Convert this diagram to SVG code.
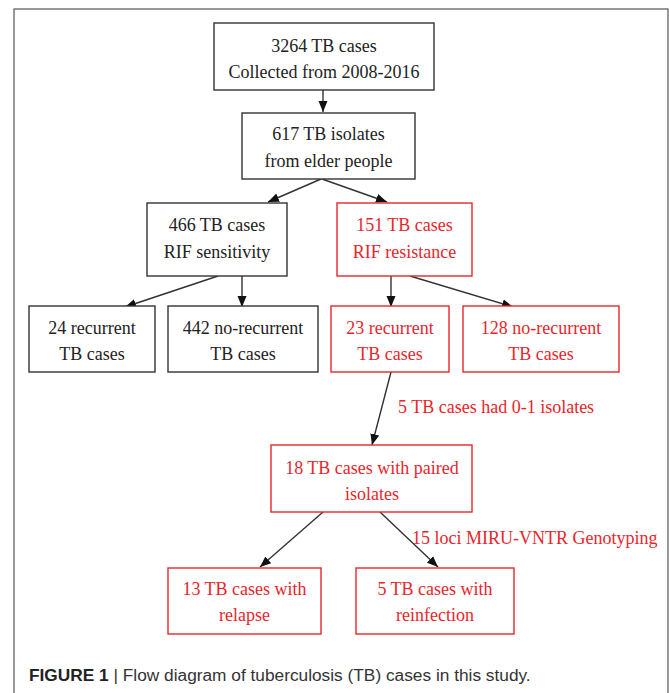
<svg xmlns="http://www.w3.org/2000/svg" width="669" height="693" viewBox="0 0 669 693">
<defs>
<style>
.bk{fill:#fff;stroke:#333;stroke-width:1.4}
.rd{fill:#fff;stroke:#e8262c;stroke-width:1.4}
.t{font-family:"Liberation Serif","Times New Roman",serif;font-size:18px;text-anchor:middle;fill:#222}
.tr{font-family:"Liberation Serif","Times New Roman",serif;font-size:18px;text-anchor:middle;fill:#e8262c}
.lr{font-family:"Liberation Serif","Times New Roman",serif;font-size:18px;fill:#e8262c}
.c{stroke:#333;stroke-width:1.4;fill:none;marker-end:url(#ah)}
.cap{font-family:"Liberation Sans",Arial,sans-serif;font-size:17.3px;fill:#333}
</style>
<marker id="ah" markerUnits="userSpaceOnUse" markerWidth="12" markerHeight="10" refX="11" refY="4.5" orient="auto" viewBox="0 0 12 9">
<path d="M0,0 L11,4.5 L0,9 z" fill="#111"/>
</marker>
</defs>
<rect x="14" y="9" width="654" height="720" fill="#fff" stroke="#555" stroke-width="1.2"/>
<g id="connectors">
<line class="c" x1="323" y1="90" x2="323" y2="112"/>
<line class="c" x1="321" y1="179" x2="268" y2="202"/>
<line class="c" x1="322" y1="179" x2="387" y2="202"/>
<line class="c" x1="218" y1="276" x2="125" y2="307"/>
<line class="c" x1="242" y1="276" x2="242" y2="307"/>
<line class="c" x1="391" y1="276" x2="391" y2="307"/>
<line class="c" x1="410" y1="276" x2="513" y2="307"/>
<line class="c" x1="391" y1="372" x2="372" y2="445"/>
<line class="c" x1="323" y1="512" x2="260" y2="567"/>
<line class="c" x1="380" y1="512" x2="438" y2="567"/>
</g>
<g id="n1"><rect class="bk" x="214" y="23" width="220" height="67"/><text class="t" x="324" y="52">3264 TB cases</text><text class="t" x="324" y="77.5">Collected from 2008-2016</text></g>
<g id="n2"><rect class="bk" x="242" y="113" width="173" height="66"/><text class="t" x="328.5" y="140">617 TB isolates</text><text class="t" x="328.5" y="166.5">from elder people</text></g>
<g id="n3"><rect class="bk" x="147" y="203" width="140" height="73"/><text class="t" x="217" y="231">466 TB cases</text><text class="t" x="217" y="257.5">RIF sensitivity</text></g>
<g id="n4"><rect class="rd" x="337" y="203" width="135" height="73"/><text class="tr" x="404.5" y="231">151 TB cases</text><text class="tr" x="404.5" y="257.5">RIF resistance</text></g>
<g id="n5"><rect class="bk" x="29" y="306" width="126" height="66"/><text class="t" x="92" y="333.5">24 recurrent</text><text class="t" x="92" y="360">TB cases</text></g>
<g id="n6"><rect class="bk" x="168" y="306" width="150" height="66"/><text class="t" x="243" y="333.5">442 no-recurrent</text><text class="t" x="243" y="360">TB cases</text></g>
<g id="n7"><rect class="rd" x="331" y="306" width="118" height="66"/><text class="tr" x="390" y="333.5">23 recurrent</text><text class="tr" x="390" y="360">TB cases</text></g>
<g id="n8"><rect class="rd" x="463" y="306" width="156" height="66"/><text class="tr" x="541" y="333.5">128 no-recurrent</text><text class="tr" x="541" y="360">TB cases</text></g>
<g id="n9"><rect class="rd" x="271" y="445" width="201" height="67"/><text class="tr" x="372" y="473.5">18 TB cases with paired</text><text class="tr" x="372" y="499.5">isolates</text></g>
<g id="n10"><rect class="rd" x="168" y="568" width="153" height="66"/><text class="tr" x="244.5" y="595">13 TB cases with</text><text class="tr" x="244.5" y="621">relapse</text></g>
<g id="n11"><rect class="rd" x="356" y="568" width="158" height="66"/><text class="tr" x="435" y="595">5 TB cases with</text><text class="tr" x="435" y="621">reinfection</text></g>
<g id="labels">
<text class="lr" x="398" y="413">5 TB cases had 0-1 isolates</text>
<text class="lr" x="412" y="544">15 loci MIRU-VNTR Genotyping</text>
</g>
<text class="cap" x="29" y="681"><tspan font-weight="bold" fill="#222">FIGURE 1</tspan><tspan> | Flow diagram of tuberculosis (TB) cases in this study.</tspan></text>
</svg>
